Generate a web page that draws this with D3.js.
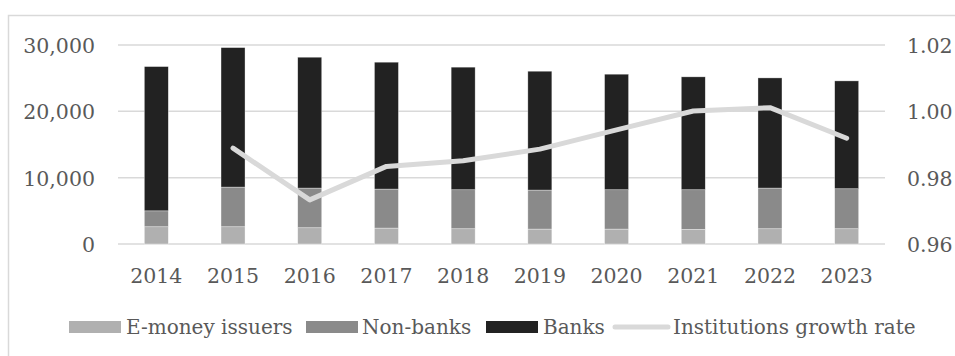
<!DOCTYPE html>
<html>
<head>
<meta charset="utf-8">
<script src="https://cdn.jsdelivr.net/npm/d3@7"></script>
<style>
  html, body { margin: 0; padding: 0; background: #fff; }
  svg { display: block; }
  text { font-family: "DejaVu Serif", "Liberation Serif", serif; fill: #595959; }
</style>
</head>
<body>
<script>
// Payment institutions by type, with the yearly growth rate of the total
const years = ["2014", "2015", "2016", "2017", "2018", "2019", "2020", "2021", "2022", "2023"];
const eMoneyIssuers = [2600, 2600, 2450, 2400, 2300, 2250, 2250, 2200, 2300, 2300];
const nonBanks = [2400, 5980, 5980, 5880, 5880, 5880, 5930, 5980, 6130, 6030];
const banks = [21750, 21030, 19730, 19130, 18480, 17920, 17420, 17020, 16610, 16260];
const growthRate = [null, 0.9889, 0.9733, 0.9834, 0.9851, 0.9886, 0.9944, 1.0001, 1.0011, 0.9919];
const leftTicks = [0, 10000, 20000, 30000];
const rightTicks = [0.96, 0.98, 1.00, 1.02];
const seriesNames = ["E-money issuers", "Non-banks", "Banks"];
const seriesColors = ["#b0b0b0", "#8a8a8a", "#222222"];
const lineName = "Institutions growth rate";
const lineColor = "#d9d9d9";

const W = 955, H = 356;
const plot = { left: 118, right: 885, top: 45, bottom: 244 };
const tickFont = 20.5;

const svg = d3.select("body").append("svg").attr("width", W).attr("height", H);

// chart area frame
svg.append("rect")
  .attr("x", 8.5).attr("y", 15.5)
  .attr("width", W + 10).attr("height", H + 10)
  .attr("fill", "none").attr("stroke", "#d9d9d9").attr("stroke-width", 1.5);

const x = d3.scaleBand().domain(years).range([plot.left, plot.right]).paddingInner(0.687).paddingOuter(0.343);
const yL = d3.scaleLinear().domain([0, 30000]).range([plot.bottom, plot.top]);
const yR = d3.scaleLinear().domain([0.96, 1.02]).range([plot.bottom, plot.top]);

// horizontal gridlines
svg.append("g").selectAll("line").data(leftTicks).join("line")
  .attr("x1", plot.left).attr("x2", plot.right)
  .attr("y1", d => yL(d)).attr("y2", d => yL(d))
  .attr("stroke", "#d9d9d9").attr("stroke-width", 1.5);

// left axis
const axL = svg.append("g").attr("transform", `translate(${plot.left - 23},0)`)
  .call(d3.axisLeft(yL).tickValues(leftTicks).tickFormat(d3.format(",")).tickSize(0).tickPadding(0));
axL.select(".domain").remove();
axL.selectAll("text").attr("font-size", tickFont).attr("dy", "0.37em")
  .style("font-family", "'DejaVu Serif', serif").attr("fill", "#595959");

// right axis
const axR = svg.append("g").attr("transform", `translate(${plot.right + 22},0)`)
  .call(d3.axisRight(yR).tickValues(rightTicks).tickFormat(d3.format(".2f")).tickSize(0).tickPadding(0));
axR.select(".domain").remove();
axR.selectAll("text").attr("font-size", tickFont).attr("dy", "0.37em")
  .style("font-family", "'DejaVu Serif', serif").attr("fill", "#595959");

// bottom axis labels (baseline placed just under the plot)
const axB = svg.append("g").attr("transform", `translate(0,283)`)
  .call(d3.axisBottom(x).tickSize(0).tickPadding(0));
axB.select(".domain").remove();
axB.selectAll("text").attr("font-size", tickFont).attr("y", 0).attr("dy", 0)
  .style("font-family", "'DejaVu Serif', serif").attr("fill", "#595959");

// stacked bars
const rows = years.map((yr, i) => ({ year: yr, e: eMoneyIssuers[i], n: nonBanks[i], b: banks[i] }));
const stack = d3.stack().keys(["e", "n", "b"])(rows);
svg.append("g").selectAll("g").data(stack).join("g")
  .attr("fill", (d, i) => seriesColors[i])
  .selectAll("rect").data(d => d).join("rect")
  .attr("x", d => x(d.data.year))
  .attr("width", x.bandwidth())
  .attr("y", d => yL(d[1]))
  .attr("height", d => yL(d[0]) - yL(d[1]))
  .attr("stroke", "#ffffff").attr("stroke-width", 0.6).attr("stroke-opacity", 0.6);

// growth rate line
const line = d3.line()
  .defined(d => d != null)
  .x((d, i) => x(years[i]) + x.bandwidth() / 2)
  .y(d => yR(d));
svg.append("path").datum(growthRate)
  .attr("d", line)
  .attr("fill", "none").attr("stroke", lineColor)
  .attr("stroke-width", 5).attr("stroke-linejoin", "round").attr("stroke-linecap", "round");

// legend
const legY = 327;
const leg = svg.append("g");
const legendItems = [
  { name: seriesNames[0], color: seriesColors[0], type: "box", x: 69, tx: 126 },
  { name: seriesNames[1], color: seriesColors[1], type: "box", x: 306, tx: 362 },
  { name: seriesNames[2], color: seriesColors[2], type: "box", x: 486, tx: 543 },
  { name: lineName, color: lineColor, type: "line", x: 615, tx: 673 }
];
legendItems.forEach(it => {
  if (it.type === "box") {
    leg.append("rect").attr("x", it.x).attr("y", legY - 6).attr("width", 52).attr("height", 12).attr("fill", it.color);
  } else {
    leg.append("line").attr("x1", it.x).attr("x2", it.x + 53).attr("y1", legY).attr("y2", legY)
      .attr("stroke", it.color).attr("stroke-width", 5).attr("stroke-linecap", "round");
  }
  leg.append("text").attr("x", it.tx).attr("y", legY).attr("dy", "0.37em")
    .attr("font-size", 20).text(it.name);
});
</script>
</body>
</html>
